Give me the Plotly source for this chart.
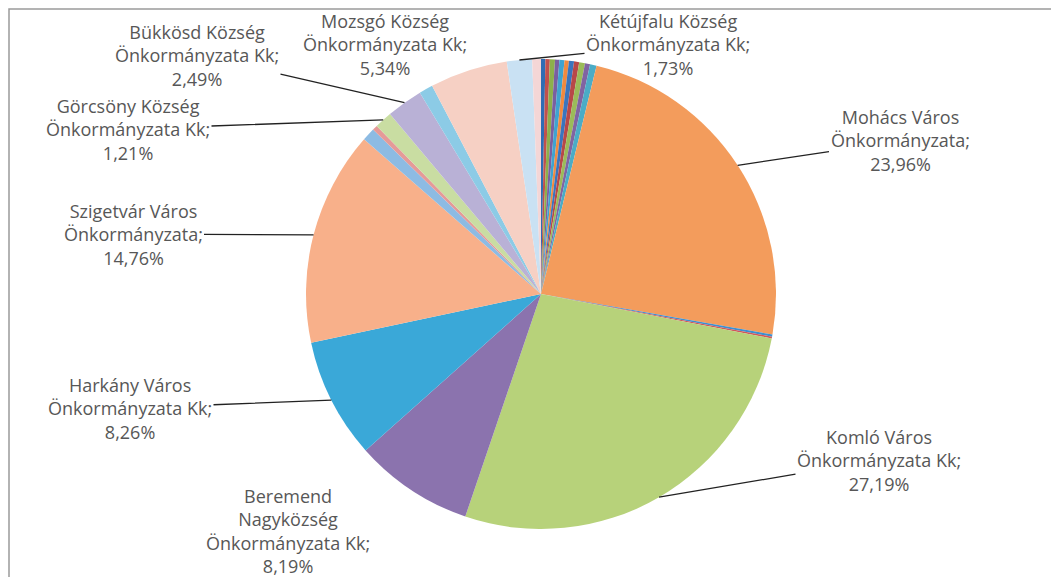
import math
import plotly.graph_objects as go

# ---- data ----
names = [
    "Egyéb 1", "Egyéb 2", "Egyéb 3", "Egyéb 4", "Egyéb 5", "Egyéb 6",
    "Egyéb 7", "Egyéb 8", "Egyéb 9", "Egyéb 10", "Egyéb 11",
    "Mohács Város Önkormányzata",
    "Egyéb 12", "Egyéb 13",
    "Komló Város Önkormányzata Kk",
    "Beremend Nagyközség Önkormányzata Kk",
    "Harkány Város Önkormányzata Kk",
    "Szigetvár Város Önkormányzata",
    "Egyéb 14", "Egyéb 15",
    "Görcsöny Község Önkormányzata Kk",
    "Bükkösd Község Önkormányzata Kk",
    "Egyéb 16",
    "Mozsgó Község Önkormányzata Kk",
    "Kétújfalu Község Önkormányzata Kk",
    "Egyéb 17",
]
shares = [
    0.30, 0.30, 0.35, 0.30, 0.35, 0.30,
    0.35, 0.35, 0.40, 0.35, 0.45,
    23.96,
    0.15, 0.12,
    27.19,
    8.19,
    8.26,
    14.76,
    0.90, 0.35,
    1.21,
    2.49,
    0.95,
    5.34,
    1.73,
    0.60,
]
colors = [
    "#2E6DB4", "#C0504D", "#8DB04B", "#7A5FA0", "#3FA3D0", "#F08A40",
    "#3A75BD", "#B84848", "#9BBB59", "#8064A2", "#4BACC6",
    "#F39C5C",
    "#3D8FD0", "#D0585A",
    "#B7D27A",
    "#8B73AE",
    "#3AA8D8",
    "#F8B08A",
    "#8DBBE3", "#E59A98",
    "#C9DDA2",
    "#B9B1D6",
    "#8CCBE6",
    "#F6D0C4",
    "#C9E1F3",
    "#F4D6D6",
]
label_text = {
    "Mohács Város Önkormányzata": "Mohács Város<br>Önkormányzata;<br>23,96%",
    "Komló Város Önkormányzata Kk": "Komló Város<br>Önkormányzata Kk;<br>27,19%",
    "Beremend Nagyközség Önkormányzata Kk": "Beremend<br>Nagyközség<br>Önkormányzata Kk;<br>8,19%",
    "Harkány Város Önkormányzata Kk": "Harkány Város<br>Önkormányzata Kk;<br>8,26%",
    "Szigetvár Város Önkormányzata": "Szigetvár Város<br>Önkormányzata;<br>14,76%",
    "Görcsöny Község Önkormányzata Kk": "Görcsöny Község<br>Önkormányzata Kk;<br>1,21%",
    "Bükkösd Község Önkormányzata Kk": "Bükkösd Község<br>Önkormányzata Kk;<br>2,49%",
    "Mozsgó Község Önkormányzata Kk": "Mozsgó Község<br>Önkormányzata Kk;<br>5,34%",
    "Kétújfalu Község Önkormányzata Kk": "Kétújfalu Község<br>Önkormányzata Kk;<br>1,73%",
}
# label block centres (screen pixels) and whether a leader line is drawn
label_pos = {
    "Mohács Város Önkormányzata": (900, 141, True),
    "Komló Város Önkormányzata Kk": (879, 460, True),
    "Beremend Nagyközség Önkormányzata Kk": (288, 531, False),
    "Harkány Város Önkormányzata Kk": (130, 408, True),
    "Szigetvár Város Önkormányzata": (133, 234, True),
    "Görcsöny Község Önkormányzata Kk": (128, 129, True),
    "Bükkösd Község Önkormányzata Kk": (197, 55, True),
    "Mozsgó Község Önkormányzata Kk": (385, 45, True),
    "Kétújfalu Község Önkormányzata Kk": (668, 45, True),
}

W, H = 1059, 577
OFF = 8  # page body margin in the browser
CX, CY, R = 541 - OFF, 294 - OFF, 235

fig = go.Figure(go.Pie(
    labels=names, values=shares, sort=False, direction="clockwise", rotation=0,
    marker=dict(colors=colors, line=dict(width=0)),
    textinfo="none", hoverinfo="label+percent", showlegend=False,
    domain=dict(x=[(CX - 290) / W, (CX + 290) / W],
                y=[(H - CY - R) / H, (H - CY + R) / H]),
))

total = sum(shares)
cum = 0.0
font = dict(family="Open Sans, Liberation Sans, sans-serif", size=18, color="#575757")
for n, v in zip(names, shares):
    mid = (cum + v / 2) / total * 2 * math.pi
    cum += v
    if n not in label_text:
        continue
    tx, ty, arrow = label_pos[n]
    tx, ty = tx - OFF, ty - OFF
    hx = CX + R * math.sin(mid)
    hy = CY - R * math.cos(mid)
    if arrow:
        fig.add_annotation(
            x=hx / W, y=1 - hy / H, xref="paper", yref="paper",
            ax=tx - hx, ay=ty - hy, text=label_text[n], showarrow=True,
            arrowhead=0, arrowwidth=1.3, arrowcolor="#222222",
            font=font, align="center",
        )
    else:
        fig.add_annotation(
            x=tx / W, y=1 - ty / H, xref="paper", yref="paper",
            xanchor="center", yanchor="middle",
            text=label_text[n], showarrow=False, font=font, align="center",
        )

fig.add_shape(type="rect", xref="paper", yref="paper",
              x0=1 / W, x1=1.02, y0=-0.05, y1=1 - 1 / H,
              line=dict(color="#9A9A9A", width=1.5), layer="below")

fig.update_layout(
    width=W, height=H, margin=dict(l=0, r=0, t=0, b=0),
    paper_bgcolor="white", plot_bgcolor="white",
)
fig.write_html("out.html")
